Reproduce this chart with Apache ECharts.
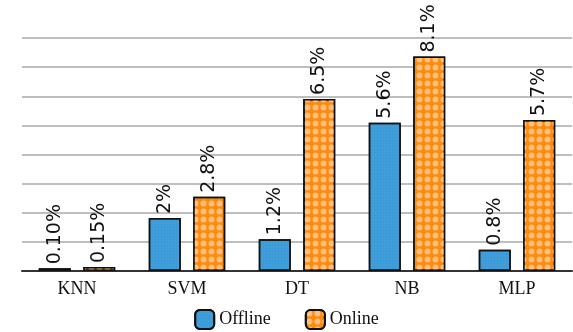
<!DOCTYPE html>
<html>
<head>
<meta charset="utf-8">
<script src="https://cdn.jsdelivr.net/npm/echarts@6/dist/echarts.min.js"></script>
<style>
  html, body { margin: 0; padding: 0; background: #fff; }
  #chart { width: 573px; height: 332px; }
</style>
</head>
<body>
<div id="chart"></div>
<script>
// Classifier error rates, offline vs online
const categories = ['KNN', 'SVM', 'DT', 'NB', 'MLP'];
const offlineValues = [0.10, 2, 1.2, 5.6, 0.8];
const onlineValues = [0.15, 2.8, 6.5, 8.1, 5.7];
const offlineLabels = ['0.10%', '2%', '1.2%', '5.6%', '0.8%'];
const onlineLabels = ['0.15%', '2.8%', '6.5%', '8.1%', '5.7%'];
const seriesNames = ['Offline', 'Online'];

const chart = echarts.init(document.getElementById('chart'), null, { renderer: 'canvas' });

function valueLabel(texts) {
  return {
    show: true,
    position: 'top',
    distance: 4,
    rotate: 90,
    align: 'left',
    verticalAlign: 'middle',
    fontFamily: 'DejaVu Sans',
    fontSize: 19,
    color: '#111',
    formatter: p => texts[p.dataIndex]
  };
}

chart.setOption({
  animation: false,
  grid: { left: 22, right: 1, top: 38, bottom: 61 },
  legend: {
    bottom: 2,
    padding: 0,
    left: 'center',
    itemWidth: 19,
    itemHeight: 19,
    itemGap: 34,
    textStyle: { fontFamily: 'Liberation Serif', fontSize: 18, color: '#111' },
    data: seriesNames
  },
  xAxis: {
    type: 'category',
    data: categories,
    axisLine: { lineStyle: { color: '#333', width: 2 } },
    axisTick: { show: false },
    axisLabel: { fontFamily: 'Liberation Serif', fontSize: 18, color: '#111', margin: 9 }
  },
  yAxis: {
    type: 'value',
    min: 0,
    max: 8.8,
    interval: 1.1,
    axisLabel: { show: false },
    axisLine: { show: false },
    axisTick: { show: false },
    splitLine: { lineStyle: { color: '#a9a9a9', width: 1.5 } }
  },
  series: [
    {
      name: seriesNames[0],
      type: 'bar',
      data: offlineValues,
      barWidth: 32,
      barGap: '39%',
      itemStyle: {
        color: '#3a9bd8',
        borderColor: '#111',
        borderWidth: 1.5,
        decal: {
          symbol: 'rect',
          symbolSize: 0.5,
          color: 'rgba(120,190,235,0.55)',
          dashArrayX: [2, 1],
          dashArrayY: [2, 1]
        }
      },
      label: valueLabel(offlineLabels)
    },
    {
      name: seriesNames[1],
      type: 'bar',
      data: onlineValues,
      barWidth: 32,
      barGap: '39%',
      itemStyle: {
        color: '#ff8a0d',
        borderColor: '#111',
        borderWidth: 1.5,
        decal: {
          symbol: 'circle',
          symbolSize: 0.85,
          color: 'rgba(255,195,135,0.95)',
          dashArrayX: [7, 1],
          dashArrayY: [7, 1]
        }
      },
      label: valueLabel(onlineLabels)
    }
  ]
});
</script>
</body>
</html>
